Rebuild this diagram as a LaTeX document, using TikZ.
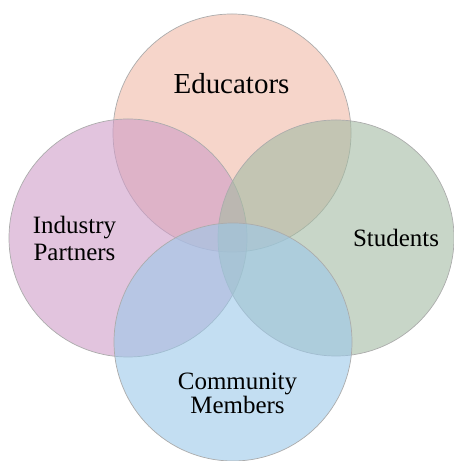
\documentclass[tikz,border=0pt]{standalone}
\usepackage{fontspec}
\setmainfont{Liberation Serif}
\usepackage{xcolor}
\definecolor{educol}{RGB}{240,185,167}
\definecolor{indcol}{RGB}{207,157,200}
\definecolor{stucol}{RGB}{163,187,163}
\definecolor{comcol}{RGB}{155,200,233}
\tikzset{
  venn/.style={draw=gray!65, line width=0.4pt, fill opacity=0.6},
  lbl/.style={align=center, inner sep=0pt, font=\fontsize{14.2}{15.4}\selectfont}
}

\begin{document}
\begin{tikzpicture}
\useasboundingbox (0,0) rectangle (9.06,9.22);
% four overlapping circles
\filldraw[venn, fill=educol] (4.64,6.56) circle (2.38);
\filldraw[venn, fill=indcol] (2.56,4.46) circle (2.38);
\filldraw[venn, fill=stucol] (6.72,4.46) circle (2.36);
\filldraw[venn, fill=comcol] (4.66,2.38) circle (2.38);
% labels
\node[lbl, font=\fontsize{16.5}{18}\selectfont] (edu) at (4.63,7.55) {Educators};
\node[lbl] (ind) at (1.49,4.45) {Industry\\Partners};
\node[lbl] (stu) at (7.92,4.47) {Students};
\node[lbl, font=\fontsize{14.2}{12.7}\selectfont] (com) at (4.75,1.35) {Community\\Members};
\end{tikzpicture}
\end{document}
